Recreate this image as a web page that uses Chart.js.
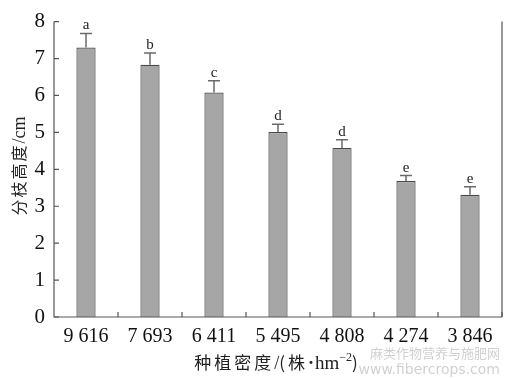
<!DOCTYPE html>
<html>
<head>
<meta charset="utf-8">
<script src="https://cdn.jsdelivr.net/npm/chart.js@4"></script>
<style>
  html, body { margin: 0; padding: 0; background: #fff; }
  #wrap { width: 505px; height: 378px; }
</style>
</head>
<body>
<div id="wrap"><canvas id="branchChart" width="505" height="378"></canvas></div>
<script>
// planting density (plants per hm^2) and branch height (cm)
const densities = ["9 616", "7 693", "6 411", "5 495", "4 808", "4 274", "3 846"];
const heights = [7.30, 6.83, 6.08, 5.01, 4.58, 3.68, 3.31];
const errors = [0.38, 0.32, 0.32, 0.21, 0.22, 0.15, 0.22];
const letters = ["a", "b", "c", "d", "d", "e", "e"];
const yTicks = [0, 1, 2, 3, 4, 5, 6, 7, 8];

const serif = "'Liberation Serif', 'DejaVu Serif', serif";
const cjk = "'Noto Sans CJK SC', sans-serif";

// pieces of text drawn one char at a time so spacing can be added
function measureParts(ctx, parts) {
    let total = 0;
    parts.forEach(p => {
        ctx.font = p.f;
        p.w = 0;
        for (const ch of p.t) p.w += ctx.measureText(ch).width + (p.sp || 0);
        total += p.w;
    });
    return total;
}
function drawParts(ctx, parts, x0, y0) {
    let px = x0;
    parts.forEach(p => {
        ctx.font = p.f;
        for (const ch of p.t) {
            ctx.fillText(ch, px, y0 + (p.dy || 0));
            px += ctx.measureText(ch).width + (p.sp || 0);
        }
    });
}

// error bars, significance letters, inside ticks, titles
const extras = {
    id: "extras",
    afterDatasetsDraw(chart) {
        const ctx = chart.ctx;
        const y = chart.scales.y;
        const area = chart.chartArea;
        const meta = chart.getDatasetMeta(0);

        ctx.save();
        meta.data.forEach((bar, i) => {
            const top = y.getPixelForValue(heights[i] + errors[i]);
            const base = y.getPixelForValue(heights[i]);
            ctx.strokeStyle = "#6a6a6a";
            ctx.lineWidth = 1.5;
            ctx.beginPath();
            ctx.moveTo(bar.x, base);
            ctx.lineTo(bar.x, top);
            ctx.moveTo(bar.x - 6, top);
            ctx.lineTo(bar.x + 6, top);
            ctx.stroke();

            ctx.fillStyle = "#222";
            ctx.font = "15px " + serif;
            ctx.textAlign = "center";
            ctx.textBaseline = "alphabetic";
            ctx.fillText(letters[i], bar.x, top - 4);
        });

        // axes box (left, bottom, right)
        ctx.strokeStyle = "#555";
        ctx.lineWidth = 1.2;
        ctx.beginPath();
        ctx.moveTo(area.left, area.top);
        ctx.lineTo(area.left, area.bottom);
        ctx.lineTo(area.right, area.bottom);
        ctx.moveTo(area.right, area.top);
        ctx.lineTo(area.right, area.bottom);
        ctx.stroke();

        // inside ticks
        ctx.beginPath();
        yTicks.forEach(v => {
            const py = y.getPixelForValue(v);
            ctx.moveTo(area.left, py);
            ctx.lineTo(area.left + 5, py);
        });
        const step = (area.right - area.left) / densities.length;
        for (let k = 1; k <= densities.length; k++) {
            const px = area.left + step * k;
            ctx.moveTo(px, area.bottom);
            ctx.lineTo(px, area.bottom - 5);
        }
        ctx.stroke();

        ctx.fillStyle = "#222";
        ctx.textAlign = "left";
        ctx.textBaseline = "alphabetic";

        // y title
        const yParts = [
            { t: "分枝高度", f: "16px " + cjk, sp: 2 },
            { t: "/", f: "18px " + serif },
            { t: "cm", f: "18px " + serif, dy: 0 }
        ];
        const yw = measureParts(ctx, yParts);
        ctx.save();
        ctx.translate(25, 166);
        ctx.rotate(-Math.PI / 2);
        drawParts(ctx, yParts, -yw / 2, 0);
        ctx.restore();

        // x title
        const xParts = [
            { t: "种植密度", f: "17px " + cjk, sp: 3 },
            { t: "/", f: "18px " + serif },
            { t: "(株", f: "17px " + cjk, sp: 3 },
            { t: "·", f: "bold 18px " + serif, sp: 1 },
            { t: "hm", f: "19px " + serif },
            { t: "−2", f: "12px " + serif, dy: -8 },
            { t: ")", f: "17px " + cjk }
        ];
        const xw = measureParts(ctx, xParts);
        drawParts(ctx, xParts, 276 - xw / 2, 369);

        // watermark
        ctx.fillStyle = "rgba(150,150,150,0.45)";
        ctx.textAlign = "right";
        ctx.font = "13px " + cjk;
        ctx.fillText("麻类作物营养与施肥网", 500, 358);
        ctx.font = "14px 'DejaVu Sans', sans-serif";
        ctx.fillText("www.fibercrops.com", 500, 374);
        ctx.restore();
    }
};

new Chart(document.getElementById("branchChart"), {
    type: "bar",
    data: {
        labels: densities,
        datasets: [{
            data: heights,
            backgroundColor: "#a6a6a6",
            borderColor: "#4a4a4a",
            borderWidth: 1.2,
            barPercentage: 0.3,
            categoryPercentage: 1.0
        }]
    },
    options: {
        responsive: false,
        animation: false,
        events: [],
        layout: { padding: { left: 0, right: 3, top: 19, bottom: 0 } },
        plugins: { legend: { display: false }, tooltip: { enabled: false } },
        scales: {
            x: {
                grid: { display: false, drawTicks: false },
                border: { display: false },
                ticks: {
                    color: "#111",
                    font: { family: serif, size: 20 },
                    padding: 8,
                    maxRotation: 0
                },
                afterFit(scale) { scale.height = 61; }
            },
            y: {
                min: 0,
                max: 8,
                grid: { display: false, drawTicks: false },
                border: { display: false },
                ticks: {
                    stepSize: 1,
                    color: "#111",
                    font: { family: serif, size: 21 },
                    padding: 9
                },
                afterFit(scale) { scale.width = 54; }
            }
        }
    },
    plugins: [extras]
});
</script>
</body>
</html>
